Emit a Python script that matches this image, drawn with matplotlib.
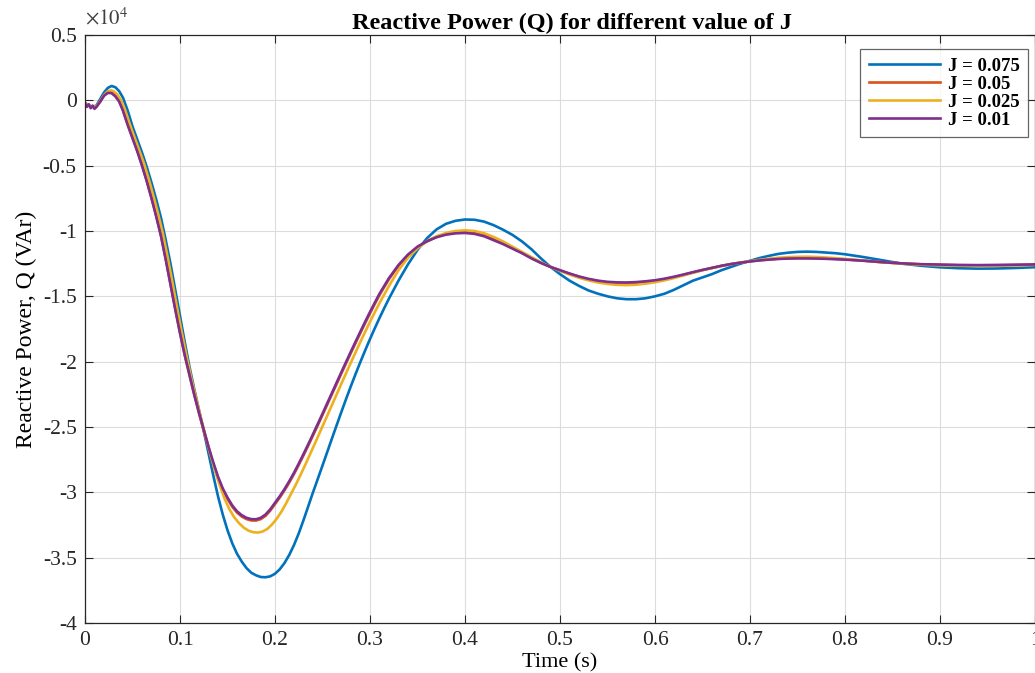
import numpy as np
import matplotlib.pyplot as plt
from matplotlib.ticker import FuncFormatter

plt.rcParams['font.family'] = ['Liberation Serif', 'DejaVu Serif']
plt.rcParams['mathtext.fontset'] = 'stix'

# reactive power traces as (time [s], Q [x1e4 VAr])
pts_j0075 = [
    (0.000, -0.02), (0.004, -0.04), (0.008, -0.05), (0.012, -0.04), (0.016, 0.01),
    (0.020, 0.06), (0.024, 0.095), (0.028, 0.11), (0.032, 0.10), (0.036, 0.07),
    (0.040, 0.02), (0.045, -0.08), (0.050, -0.20), (0.055, -0.30), (0.060, -0.40),
    (0.065, -0.51), (0.070, -0.63), (0.075, -0.76), (0.080, -0.90), (0.085, -1.07),
    (0.090, -1.25), (0.095, -1.45), (0.100, -1.65), (0.105, -1.85), (0.110, -2.04),
    (0.115, -2.21), (0.120, -2.37), (0.125, -2.53), (0.130, -2.70), (0.135, -2.87),
    (0.140, -3.03), (0.145, -3.17), (0.150, -3.29), (0.155, -3.39), (0.160, -3.47),
    (0.165, -3.53), (0.170, -3.58), (0.175, -3.615), (0.180, -3.635), (0.185, -3.648),
    (0.190, -3.65), (0.195, -3.643), (0.200, -3.623), (0.205, -3.589), (0.210, -3.541),
    (0.215, -3.479), (0.220, -3.403), (0.225, -3.314), (0.230, -3.213), (0.235, -3.107),
    (0.240, -3.0), (0.245, -2.898), (0.250, -2.795), (0.255, -2.691), (0.260, -2.587),
    (0.265, -2.484), (0.270, -2.382), (0.275, -2.282), (0.280, -2.185), (0.285, -2.091),
    (0.290, -2.0), (0.295, -1.912), (0.300, -1.827), (0.305, -1.745), (0.310, -1.666),
    (0.315, -1.59), (0.320, -1.517), (0.330, -1.38), (0.340, -1.255), (0.350, -1.145),
    (0.360, -1.055), (0.370, -0.988), (0.380, -0.945), (0.390, -0.922), (0.400, -0.912),
    (0.410, -0.914), (0.420, -0.928), (0.430, -0.955), (0.440, -0.99), (0.450, -1.03),
    (0.460, -1.08), (0.470, -1.14), (0.480, -1.21), (0.490, -1.275), (0.500, -1.33),
    (0.510, -1.38), (0.520, -1.42), (0.530, -1.455), (0.540, -1.48), (0.550, -1.50),
    (0.560, -1.515), (0.570, -1.522), (0.580, -1.522), (0.590, -1.515), (0.600, -1.50),
    (0.610, -1.48), (0.620, -1.45), (0.630, -1.415), (0.640, -1.38), (0.650, -1.355),
    (0.660, -1.33), (0.670, -1.30), (0.680, -1.275), (0.690, -1.25), (0.700, -1.228),
    (0.710, -1.207), (0.720, -1.19), (0.730, -1.175), (0.740, -1.166), (0.750, -1.16),
    (0.760, -1.158), (0.770, -1.16), (0.780, -1.165), (0.790, -1.17), (0.800, -1.178),
    (0.820, -1.20), (0.840, -1.225), (0.860, -1.25), (0.880, -1.266), (0.900, -1.278),
    (0.920, -1.285), (0.940, -1.288), (0.960, -1.287), (0.980, -1.283), (1.000, -1.277),
]

pts_j005 = [
    (0.000, -0.02), (0.002, -0.045), (0.004, -0.035), (0.006, -0.055), (0.008, -0.045),
    (0.010, -0.06), (0.012, -0.05), (0.016, -0.01), (0.020, 0.037), (0.024, 0.062),
    (0.028, 0.06), (0.032, 0.035), (0.036, -0.005), (0.040, -0.075), (0.045, -0.185),
    (0.050, -0.285), (0.055, -0.385), (0.060, -0.495), (0.065, -0.615), (0.070, -0.745),
    (0.075, -0.885), (0.080, -1.035), (0.085, -1.215), (0.090, -1.405), (0.095, -1.595),
    (0.100, -1.78), (0.105, -1.95), (0.110, -2.105), (0.115, -2.255), (0.120, -2.395),
    (0.125, -2.53), (0.130, -2.66), (0.135, -2.78), (0.140, -2.89), (0.145, -2.98),
    (0.150, -3.05), (0.155, -3.11), (0.160, -3.155), (0.165, -3.185), (0.170, -3.205),
    (0.175, -3.215), (0.180, -3.216), (0.185, -3.205), (0.190, -3.18), (0.195, -3.14),
    (0.200, -3.09), (0.205, -3.04), (0.210, -2.985), (0.215, -2.925), (0.220, -2.86),
    (0.225, -2.79), (0.230, -2.717), (0.235, -2.642), (0.240, -2.565), (0.245, -2.487),
    (0.250, -2.408), (0.255, -2.328), (0.260, -2.248), (0.265, -2.168), (0.270, -2.088),
    (0.275, -2.009), (0.280, -1.931), (0.285, -1.854), (0.290, -1.778), (0.295, -1.703),
    (0.300, -1.63), (0.305, -1.559), (0.310, -1.49), (0.320, -1.368), (0.330, -1.266),
    (0.340, -1.185), (0.350, -1.122), (0.360, -1.08), (0.370, -1.045), (0.380, -1.024),
    (0.390, -1.013), (0.400, -1.009), (0.410, -1.015), (0.420, -1.033), (0.430, -1.062),
    (0.440, -1.094), (0.450, -1.13), (0.460, -1.166), (0.470, -1.206), (0.480, -1.243),
    (0.490, -1.275), (0.500, -1.302), (0.510, -1.328), (0.520, -1.351), (0.530, -1.37),
    (0.540, -1.384), (0.550, -1.394), (0.560, -1.398), (0.570, -1.399), (0.580, -1.396),
    (0.590, -1.39), (0.600, -1.381), (0.610, -1.369), (0.620, -1.354), (0.630, -1.336),
    (0.640, -1.317), (0.650, -1.299), (0.660, -1.283), (0.670, -1.267), (0.680, -1.253),
    (0.690, -1.242), (0.700, -1.232), (0.710, -1.224), (0.720, -1.217), (0.730, -1.212),
    (0.740, -1.208), (0.750, -1.206), (0.760, -1.206), (0.770, -1.207), (0.780, -1.209),
    (0.790, -1.213), (0.800, -1.217), (0.820, -1.227), (0.840, -1.239), (0.860, -1.248),
    (0.880, -1.255), (0.900, -1.259), (0.920, -1.262), (0.940, -1.263), (0.960, -1.262),
    (0.980, -1.26), (1.000, -1.258),
]

pts_j0025 = [
    (0.000, -0.02), (0.004, -0.04), (0.008, -0.05), (0.012, -0.045), (0.016, -0.005),
    (0.020, 0.04), (0.024, 0.07), (0.027, 0.076), (0.030, 0.07), (0.034, 0.045),
    (0.038, 0.0), (0.042, -0.07), (0.047, -0.18), (0.052, -0.28), (0.057, -0.38),
    (0.062, -0.48), (0.067, -0.60), (0.072, -0.73), (0.077, -0.87), (0.082, -1.02),
    (0.087, -1.20), (0.092, -1.39), (0.097, -1.59), (0.102, -1.78), (0.107, -1.96),
    (0.112, -2.13), (0.117, -2.28), (0.122, -2.43), (0.127, -2.57), (0.132, -2.71),
    (0.137, -2.84), (0.142, -2.95), (0.147, -3.05), (0.152, -3.13), (0.157, -3.19),
    (0.162, -3.235), (0.167, -3.27), (0.172, -3.293), (0.177, -3.305), (0.182, -3.308),
    (0.187, -3.30), (0.192, -3.28), (0.197, -3.245), (0.202, -3.20), (0.207, -3.145),
    (0.212, -3.08), (0.217, -3.01), (0.222, -2.94), (0.227, -2.865), (0.232, -2.787),
    (0.237, -2.707), (0.242, -2.626), (0.247, -2.544), (0.252, -2.462), (0.257, -2.38),
    (0.262, -2.298), (0.267, -2.216), (0.272, -2.134), (0.277, -2.053), (0.282, -1.973),
    (0.287, -1.894), (0.292, -1.816), (0.297, -1.74), (0.302, -1.666), (0.307, -1.594),
    (0.312, -1.525), (0.320, -1.42), (0.330, -1.30), (0.340, -1.205), (0.350, -1.133),
    (0.360, -1.077), (0.370, -1.04), (0.380, -1.015), (0.390, -1.0), (0.400, -0.995),
    (0.410, -1.0), (0.420, -1.017), (0.430, -1.045), (0.440, -1.08), (0.450, -1.12),
    (0.460, -1.16), (0.470, -1.20), (0.480, -1.24), (0.490, -1.275), (0.500, -1.305),
    (0.510, -1.333), (0.520, -1.358), (0.530, -1.378), (0.540, -1.394), (0.550, -1.405),
    (0.560, -1.412), (0.570, -1.414), (0.580, -1.411), (0.590, -1.403), (0.600, -1.392),
    (0.610, -1.378), (0.620, -1.36), (0.630, -1.34), (0.640, -1.32), (0.650, -1.30),
    (0.660, -1.284), (0.670, -1.268), (0.680, -1.254), (0.690, -1.242), (0.700, -1.231),
    (0.710, -1.221), (0.720, -1.212), (0.730, -1.205), (0.740, -1.2), (0.750, -1.198),
    (0.760, -1.197), (0.770, -1.199), (0.780, -1.203), (0.790, -1.208), (0.800, -1.214),
    (0.820, -1.227), (0.840, -1.24), (0.860, -1.25), (0.880, -1.258), (0.900, -1.263),
    (0.920, -1.266), (0.940, -1.267), (0.960, -1.266), (0.980, -1.263), (1.000, -1.26),
]

pts_j001 = [
    (0.000, -0.02), (0.002, -0.05), (0.004, -0.03), (0.006, -0.06), (0.008, -0.04),
    (0.010, -0.065), (0.012, -0.05), (0.016, -0.01), (0.020, 0.035), (0.024, 0.057),
    (0.028, 0.055), (0.032, 0.03), (0.036, -0.01), (0.040, -0.08), (0.045, -0.19),
    (0.050, -0.29), (0.055, -0.39), (0.060, -0.50), (0.065, -0.62), (0.070, -0.75),
    (0.075, -0.89), (0.080, -1.04), (0.085, -1.22), (0.090, -1.41), (0.095, -1.60),
    (0.100, -1.78), (0.105, -1.95), (0.110, -2.10), (0.115, -2.25), (0.120, -2.39),
    (0.125, -2.52), (0.130, -2.65), (0.135, -2.77), (0.140, -2.88), (0.145, -2.97),
    (0.150, -3.04), (0.155, -3.10), (0.160, -3.145), (0.165, -3.175), (0.170, -3.195),
    (0.175, -3.205), (0.180, -3.206), (0.185, -3.195), (0.190, -3.17), (0.195, -3.13),
    (0.200, -3.08), (0.205, -3.03), (0.210, -2.975), (0.215, -2.915), (0.220, -2.85),
    (0.225, -2.78), (0.230, -2.707), (0.235, -2.632), (0.240, -2.555), (0.245, -2.477),
    (0.250, -2.398), (0.255, -2.318), (0.260, -2.238), (0.265, -2.158), (0.270, -2.078),
    (0.275, -1.999), (0.280, -1.921), (0.285, -1.844), (0.290, -1.768), (0.295, -1.693),
    (0.300, -1.62), (0.305, -1.549), (0.310, -1.48), (0.320, -1.36), (0.330, -1.26),
    (0.340, -1.18), (0.350, -1.12), (0.360, -1.078), (0.370, -1.048), (0.380, -1.028),
    (0.390, -1.018), (0.400, -1.015), (0.410, -1.022), (0.420, -1.04), (0.430, -1.07),
    (0.440, -1.10), (0.450, -1.135), (0.460, -1.17), (0.470, -1.21), (0.480, -1.245),
    (0.490, -1.275), (0.500, -1.30), (0.510, -1.325), (0.520, -1.348), (0.530, -1.366),
    (0.540, -1.38), (0.550, -1.389), (0.560, -1.393), (0.570, -1.394), (0.580, -1.391),
    (0.590, -1.385), (0.600, -1.377), (0.610, -1.365), (0.620, -1.35), (0.630, -1.333),
    (0.640, -1.315), (0.650, -1.298), (0.660, -1.282), (0.670, -1.266), (0.680, -1.253),
    (0.690, -1.242), (0.700, -1.233), (0.710, -1.225), (0.720, -1.219), (0.730, -1.214),
    (0.740, -1.211), (0.750, -1.21), (0.760, -1.21), (0.770, -1.211), (0.780, -1.213),
    (0.790, -1.216), (0.800, -1.219), (0.820, -1.228), (0.840, -1.239), (0.860, -1.248),
    (0.880, -1.254), (0.900, -1.257), (0.920, -1.26), (0.940, -1.261), (0.960, -1.26),
    (0.980, -1.258), (1.000, -1.256),
]

labels = ['J = 0.075', 'J = 0.05', 'J = 0.025', 'J = 0.01']
colors = ['#0072BD', '#D95319', '#EDB120', '#7E2F8E']
series = [pts_j0075, pts_j005, pts_j0025, pts_j001]

fig = plt.figure(figsize=(10.35, 6.73), dpi=100)
ax = fig.add_axes([85 / 1035, 50 / 673, 950 / 1035, 588 / 673])

for pts, c, lab in zip(series, colors, labels):
    t, q = np.array(pts).T
    ax.plot(t, q, color=c, lw=1.9, label=lab)

ax.set_xlim(0, 1)
ax.set_ylim(-4, 0.5)
ax.set_xticks(np.arange(0, 1.01, 0.1))
ax.set_yticks(np.arange(-4, 0.51, 0.5))
fmt = FuncFormatter(lambda v, p: f'{round(v, 2):g}')
ax.xaxis.set_major_formatter(fmt)
ax.yaxis.set_major_formatter(fmt)
ax.tick_params(direction='in', length=6, width=0.8, top=True, right=True,
               labelsize=15.5, colors='#262626', pad=6)
ax.grid(True, color='#dcdcdc', lw=0.8)
for s in ax.spines.values():
    s.set_color('#262626')
    s.set_linewidth(0.9)

ax.set_title('Reactive Power (Q) for different value of J', fontsize=17.5,
             fontweight='bold', x=0.513, pad=4)
ax.set_xlabel('Time (s)', fontsize=16, labelpad=2)
ax.set_ylabel('Reactive Power, Q (VAr)', fontsize=17, labelpad=4)
ax.text(0.0, 1.01, r'$\times10^{4}$', transform=ax.transAxes, fontsize=15,
        color='#404040', va='bottom', ha='left')

leg = ax.legend(loc='upper right', bbox_to_anchor=(0.9926, 0.976), borderaxespad=0,
                prop={'weight': 'bold', 'size': 13.5}, handlelength=3.8,
                frameon=True, fancybox=False, borderpad=0.45, labelspacing=0.05,
                handletextpad=0.4)
leg.get_frame().set_edgecolor('#404040')
leg.get_frame().set_linewidth(0.9)

fig.savefig('out.png', dpi=100)
